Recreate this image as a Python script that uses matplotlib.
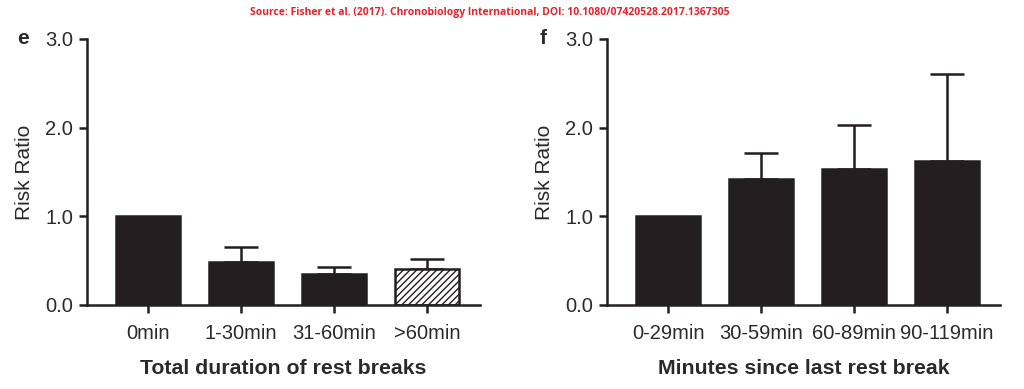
import matplotlib
matplotlib.use("Agg")
import matplotlib.pyplot as plt
import numpy as np

plt.rcParams['font.family'] = ['Liberation Sans', 'DejaVu Sans']
plt.rcParams['hatch.linewidth'] = 1.0

cats_e = ["0min", "1-30min", "31-60min", ">60min"]
vals_e = [1.0, 0.485, 0.35, 0.41]
err_e = [0.0, 0.17, 0.08, 0.11]
hatched_e = [False, False, False, True]

cats_f = ["0-29min", "30-59min", "60-89min", "90-119min"]
vals_f = [1.0, 1.42, 1.53, 1.62]
err_f = [0.0, 0.29, 0.50, 0.98]

yticks = [0.0, 1.0, 2.0, 3.0]
ytick_labels = ["0.0", "1.0", "2.0", "3.0"]

dark = "#231f20"
textc = "#2a2a2a"

fig = plt.figure(figsize=(10.24, 3.89), dpi=100)
ax1 = fig.add_axes([87/1024, 1-305/389, (480-87)/1024, (305-39)/389])
ax2 = fig.add_axes([607/1024, 1-305/389, (1000-607)/1024, (305-39)/389])

def draw(ax, cats, vals, errs, xlabel, hatched=None):
    x = np.arange(len(cats))
    for i in range(len(cats)):
        h = hatched[i] if hatched else False
        ax.bar(x[i], vals[i], width=0.68,
               color="white" if h else dark,
               edgecolor=dark, linewidth=1.8,
               hatch="/////" if h else None, zorder=2)
        if errs[i] > 0:
            ax.errorbar(x[i], vals[i], yerr=[[0], [errs[i]]], fmt="none",
                        ecolor=dark, elinewidth=1.8, capsize=12, capthick=1.8, zorder=1)
    ax.set_xlim(-0.656, 3.57)
    ax.set_ylim(0, 3.0)
    ax.set_yticks(yticks)
    ax.set_yticklabels(ytick_labels, fontsize=14.5, color=textc)
    ax.set_xticks(x)
    ax.set_xticklabels(cats, fontsize=14.5, color=textc)
    ax.spines['top'].set_visible(False)
    ax.spines['right'].set_visible(False)
    for s in ['left', 'bottom']:
        ax.spines[s].set_linewidth(1.8)
        ax.spines[s].set_color(dark)
    ax.tick_params(axis='y', direction='out', length=6, width=1.8, color=dark, pad=4)
    ax.tick_params(axis='x', direction='out', length=6, width=1.8, color=dark, pad=8)
    ax.set_ylabel("Risk Ratio", fontsize=15, labelpad=8, color=textc)
    ax.set_xlabel(xlabel, fontsize=15.3, fontweight='bold', labelpad=11, color=textc)

draw(ax1, cats_e, vals_e, err_e, "Total duration of rest breaks", hatched_e)
draw(ax2, cats_f, vals_f, err_f, "Minutes since last rest break")

fig.text(17/1024, 1-39/389, "e", fontsize=15, fontweight='bold', va='center', ha='left', color=textc)
fig.text(540/1024, 1-39/389, "f", fontsize=15, fontweight='bold', va='center', ha='left', color=textc)
fig.text(490/1024, 1-13/389, "Source: Fisher et al. (2017). Chronobiology International, DOI: 10.1080/07420528.2017.1367305",
         fontsize=7.5, fontweight='bold', color="#e8202a", ha='center', va='center',
         family=['Open Sans', 'DejaVu Sans'])

fig.savefig("out.png", dpi=100)
